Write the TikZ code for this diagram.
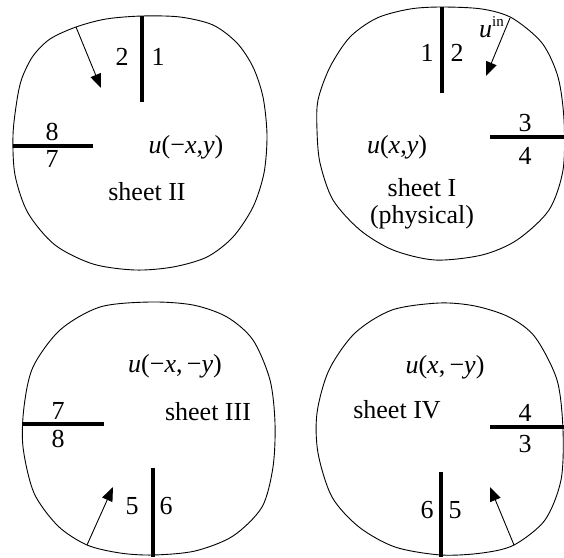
\documentclass[tikz,border=0pt]{standalone}
\usepackage{fontspec}
\setmainfont{Liberation Serif}
\usetikzlibrary{arrows.meta}
\newcommand\iv[1]{\textit{#1}}
\begin{document}
\begin{tikzpicture}[x=1pt,y=-1pt,
  outline/.style={line width=0.9pt},
  cut/.style={line width=3.4pt},
  wave/.style={line width=0.9pt,-{Triangle[length=14pt,width=11pt]}},
  lab/.style={inner sep=0pt,anchor=base,font=\fontsize{26}{30}\selectfont},
  every node/.style={lab}]
\useasboundingbox (0,0) rectangle (564,557);
% sheet II
\draw[outline] plot[smooth cycle] coordinates {
  (142,16) (180,17) (213,25) (237,43) (253,67) (263,97) (267,135) (264,173)
  (253,207) (233,237) (207,257) (173,267) (135,270) (93,264) (55,245)
  (28,213) (15,175) (13,135) (17,100) (22,78) (33,56) (50,39) (76,27) (106,19)};
\draw[cut] (142,16) -- (142,102);
\draw[cut] (13,146) -- (93,146);
\coordinate (a2s) at (76,27); \coordinate (a2e) at (101,88);
\draw[wave] (a2s) -- (a2e);
\node (n2a) at (122,65) {2};
\node (n1a) at (158,65) {1};
\node (n8a) at (52,140) {8};
\node (n7a) at (52,167) {7};
\node (u2) at (186,153) {\iv{u}(−\iv{x},\iv{y})};
\node (s2) at (147,200) {sheet II};
% sheet I
\draw[outline] plot[smooth cycle] coordinates {
  (442,7) (482,9) (512,18) (542,43) (558,77) (564,120) (563,170) (549,210)
  (517,240) (482,255) (435,260) (393,250) (360,230) (333,200) (320,163)
  (317,130) (318,100) (330,67) (350,37) (377,18) (410,9)};
\draw[cut] (442,7) -- (442,93);
\draw[cut] (490,137) -- (564,137);
\coordinate (a1s) at (510,18); \coordinate (a1e) at (486,76);
\draw[wave] (a1s) -- (a1e);
\node[anchor=base west] (uin) at (479,37) {\iv{u}\raisebox{0.42em}{\fontsize{15}{17}\selectfont in}};
\node (n1b) at (427,61) {1};
\node (n2b) at (457,61) {2};
\node (n3b) at (525,131) {3};
\node (n4b) at (525,164) {4};
\node (u1) at (397,153) {\iv{u}(\iv{x},\iv{y})};
\node (s1) at (422,196) {sheet I};
\node (p1) at (422,223) {(physical)};
% sheet III
\draw[outline] plot[smooth cycle] coordinates {
  (150,302) (193,305) (227,317) (253,340) (270,380) (275,423) (273,467)
  (262,507) (233,536) (195,551) (153,555) (120,553) (87,545) (58,526)
  (34,493) (23,447) (24,407) (33,367) (60,330) (100,307)};
\draw[cut] (23,424) -- (104,424);
\draw[cut] (153,468) -- (153,557);
\coordinate (a3s) at (87,545); \coordinate (a3e) at (113,487);
\draw[wave] (a3s) -- (a3e);
\node (u3) at (175,372) {\iv{u}(−\iv{x},\,−\iv{y})};
\node (s3) at (208,420) {sheet III};
\node (n7c) at (58,419) {7};
\node (n8c) at (58,447) {8};
\node (n5c) at (132,514) {5};
\node (n6c) at (166,514) {6};
% sheet IV
\draw[outline] plot[smooth cycle] coordinates {
  (439,303) (475,306) (509,317) (535,337) (557,380) (563,430) (561,480)
  (545,520) (514,545) (482,553) (441,555) (395,547) (359,527) (332,497)
  (318,453) (317,413) (329,370) (355,333) (392,310)};
\draw[cut] (490,427) -- (564,427);
\draw[cut] (441,472) -- (441,557);
\coordinate (a4s) at (514,545); \coordinate (a4e) at (490,487);
\draw[wave] (a4s) -- (a4e);
\node (u4) at (445,373) {\iv{u}(\iv{x},\,−\iv{y})};
\node (s4) at (397,418) {sheet IV};
\node (n4d) at (525,421) {4};
\node (n3d) at (525,452) {3};
\node (n6d) at (427,518) {6};
\node (n5d) at (455,518) {5};
\end{tikzpicture}
\end{document}
